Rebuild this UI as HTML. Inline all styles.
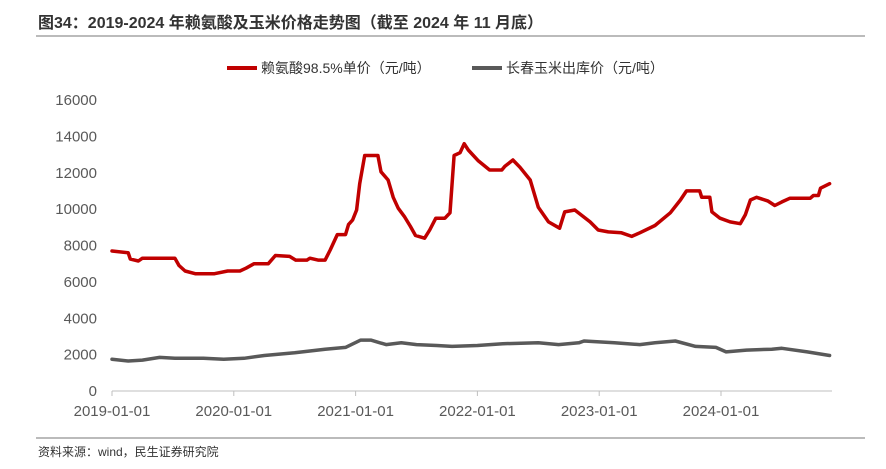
<!DOCTYPE html>
<html><head><meta charset="utf-8"><style>
body{margin:0;background:#fff;}
svg{display:block;font-family:"Liberation Sans","Noto Sans CJK SC",sans-serif;}
</style></head><body>
<svg id="chart" width="886" height="469" viewBox="0 0 886 469">
<text x="38" y="28" font-size="16" font-weight="bold" fill="#333">图34：2019-2024 年赖氨酸及玉米价格走势图（截至 2024 年 11 月底）</text>
<line x1="36" y1="36" x2="865" y2="36" stroke="#777" stroke-width="1"/>
<g>
<line x1="227" y1="68" x2="257" y2="68" stroke="#C00000" stroke-width="4"/>
<text x="261" y="73" font-size="14" fill="#333">赖氨酸98.5%单价（元/吨）</text>
<line x1="472" y1="68" x2="502" y2="68" stroke="#595959" stroke-width="4"/>
<text x="506" y="73" font-size="14" fill="#333">长春玉米出库价（元/吨）</text>
</g>
<g id="axes"></g>
<g id="series"></g>
<line x1="36" y1="438" x2="865" y2="438" stroke="#777" stroke-width="1"/>
<text x="38" y="456" font-size="12" fill="#333">资料来源：wind，民生证券研究院</text>
</svg>
<script>
// months since 2019-01-01
const lysineMonths=[0,1.6,1.8,2.6,3,4.7,6.2,6.6,7.2,8.2,10.1,11.4,12.6,13.2,14,15.4,16.1,17.5,18.1,19.2,19.5,20.3,21,21.5,22.2,23,23.3,23.7,24.1,24.4,24.9,26.2,26.5,27.2,27.7,28.2,28.8,29.4,29.9,30.8,31.3,31.9,32.8,33.3,33.7,34.3,34.7,35.1,36.1,37.2,38.4,38.7,39.5,40.2,41.2,42,43,44.1,44.6,45.6,46.3,47.1,47.9,48.9,50.2,51.2,52,53.5,55,56,56.6,57.9,58.1,58.9,59.1,59.9,60.9,61.9,62.4,62.9,63.5,64.6,65.3,66,66.8,68.8,69.1,69.6,69.8,70.7];
const lysineValues=[7700,7600,7250,7150,7300,7300,7300,6900,6600,6450,6450,6600,6600,6750,7000,7000,7450,7400,7200,7200,7300,7200,7200,7750,8600,8600,9150,9400,9950,11400,12950,12950,12050,11600,10650,10050,9600,9050,8550,8400,8850,9500,9500,9800,12950,13100,13600,13250,12650,12150,12150,12350,12700,12300,11600,10100,9300,8950,9850,9950,9650,9300,8850,8750,8700,8500,8700,9100,9800,10500,11000,11000,10650,10650,9850,9500,9300,9200,9700,10500,10650,10450,10200,10400,10600,10600,10750,10750,11150,11400];
const cornMonths=[0,1.6,3,4.7,6.2,9,11,13,15,18,21,23,24.5,25.5,27,28.5,30,32,33.5,36,38.5,42,44,46,46.5,49.5,52,53.5,55.5,57.5,59.5,60.5,62.5,65,66,68.5,70.7];
const cornValues=[1750,1650,1700,1850,1800,1800,1750,1800,1950,2100,2300,2400,2800,2800,2550,2650,2550,2500,2450,2500,2600,2650,2550,2650,2750,2650,2550,2650,2750,2450,2400,2150,2250,2300,2350,2150,1950];
const yTicks=[0,2000,4000,6000,8000,10000,12000,14000,16000];
const xTickLabels=["2019-01-01","2020-01-01","2021-01-01","2022-01-01","2023-01-01","2024-01-01"];

const X0=112, PXM=121.8/12, Y0=391, PXV=291/16000;
const xs=m=>X0+m*PXM, ys=v=>Y0-v*PXV;
const NS="http://www.w3.org/2000/svg";
const axes=document.getElementById('axes'), series=document.getElementById('series');
function mk(tag,attrs,parent){const e=document.createElementNS(NS,tag);for(const k in attrs)e.setAttribute(k,attrs[k]);parent.appendChild(e);return e;}
yTicks.forEach(v=>{
  const t=mk('text',{x:97,y:ys(v)+5,'text-anchor':'end','font-size':15,fill:'#595959'},axes);
  
  
  t.textContent=v;
});
const ax=mk('line',{x1:X0,y1:Y0,x2:832,y2:Y0,stroke:'#bfbfbf','stroke-width':1},axes);


xTickLabels.forEach((s,i)=>{
  const x=xs(i*12);
  const tk=mk('line',{x1:x,y1:Y0,x2:x,y2:Y0+5,stroke:'#bfbfbf'},axes);
  
  
  const t=mk('text',{x:x,y:Y0+25,'text-anchor':'middle','font-size':15,fill:'#595959'},axes);
  
  
  t.textContent=s;
});
function line(ms,vs,color,name){
  const pts=ms.map((m,i)=>xs(m).toFixed(1)+','+ys(vs[i]).toFixed(1)).join(' ');
  const p=mk('polyline',{points:pts,fill:'none',stroke:color,'stroke-width':3.5,'stroke-linejoin':'round','stroke-linecap':'round'},series);
  
  
}
line(cornMonths,cornValues,'#595959','corn-price-line');
line(lysineMonths,lysineValues,'#C00000','lysine-price-line');
</script>
</body></html>
